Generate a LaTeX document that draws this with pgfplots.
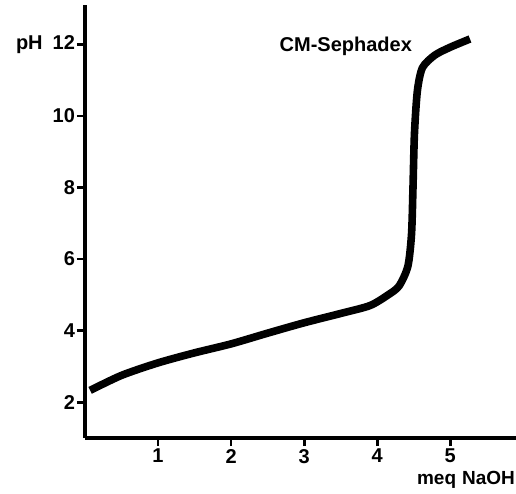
\documentclass[border=0pt]{standalone}
\usepackage{fontspec}
\setmainfont{Liberation Sans}
\usepackage{pgfplots}
\pgfplotsset{compat=1.18}
\begin{document}
\begin{tikzpicture}[x=1pt,y=1pt]
\begin{axis}[
    scale only axis,
    width=215.5pt, height=216.5pt,
    xmin=0, xmax=5.9,
    ymin=1, ymax=13.1,
    axis lines=left,
    axis line style={-, line width=1.8pt},
    tick align=outside,
    major tick length=4pt,
    tick style={line width=1.4pt, black},
    xtick={1,2,3,4,5},
    ytick={2,4,6,8,10,12},
    yticklabels={2,4,6,8,10,{pH\hspace{5pt}12}},
    /pgf/number format/assume math mode=true,
    ticklabel style={font=\bfseries\fontsize{10}{12}\selectfont},
    yticklabel style={xshift=2.5pt},
    xticklabel style={yshift=2pt},
    xlabel={meq\hspace{3pt}NaOH},
    xlabel style={at={(rel axis cs:0.765,0)}, anchor=north west, yshift=-15.5pt,
        inner sep=1pt, font=\bfseries\fontsize{9.5}{11}\selectfont},
    clip=false,
]
\addplot[black, line width=3.8pt, smooth, tension=0.45] coordinates {
    (0.07,2.33) (0.5,2.75) (1.0,3.1) (1.5,3.38) (2.0,3.63) (2.5,3.93)
    (3.0,4.22) (3.5,4.48) (3.9,4.7) (4.15,5.0) (4.3,5.25) (4.42,5.8)
    (4.47,6.7) (4.49,8.0) (4.51,9.5) (4.55,10.7) (4.62,11.35)
    (4.79,11.7) (5.0,11.92) (5.27,12.15)
};
\node[font=\bfseries\fontsize{10}{12}\selectfont] at (axis cs:3.57,11.95) {CM-Sephadex};
\end{axis}
\pgfresetboundingbox
\useasboundingbox (current axis.origin) ++(-42.5pt,-28pt) rectangle ++(258pt,247pt);
\end{tikzpicture}
\end{document}
